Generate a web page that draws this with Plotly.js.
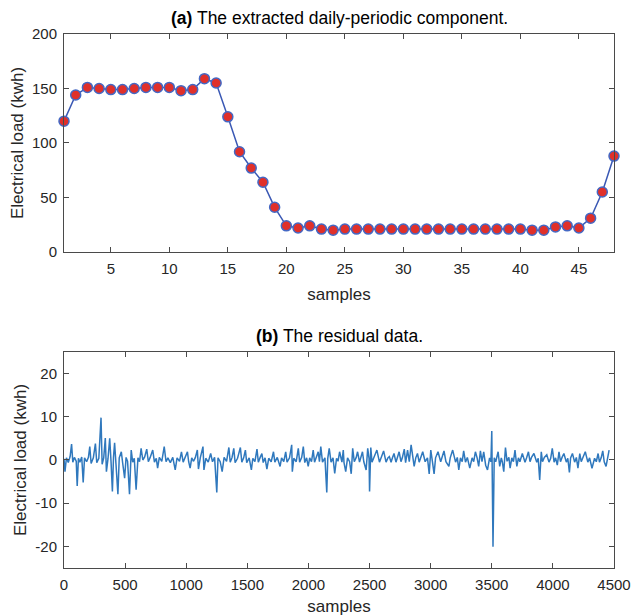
<!DOCTYPE html>
<html>
<head>
<meta charset="utf-8">
<script src="https://cdn.plot.ly/plotly-3.0.1.min.js"></script>
<style>html,body{margin:0;padding:0;background:#fff;}#chart{width:632px;height:616px;}</style>
</head>
<body>
<div id="chart"></div>
<script>
// (a) daily-periodic component
var periodSamples = [1,2,3,4,5,6,7,8,9,10,11,12,13,14,15,16,17,18,19,20,21,22,23,24,25,26,27,28,29,30,31,32,33,34,35,36,37,38,39,40,41,42,43,44,45,46,47,48];
var periodLoad = [120,144,151,150,149,149,150,151,151,151,148,149,159,155,124,92,77,64,41,24,22,24,21,20,21,21,21,21,21,21,21,21,21,21,21,21,21,21,21,21,20,20,23,24,22,31,55,88];

// (b) residual data
var residSamples = [0,8,20,35,50,62,72,85,100,108,118,130,145,157,168,185,200,211,222,240,257,268,285,303,312,325,338,347,360,374,385,396,405,414,425,441,452,469,480,496,508,520,536,550,562,575,590,605,618,631,645,660,677,690,705,726,740,755,766,780,800,820,835,850,870,890,910,925,945,961,975,990,1010,1020,1032,1045,1060,1075,1091,1100,1115,1137,1145,1160,1180,1200,1215,1232,1250,1260,1278,1294,1310,1330,1349,1360,1375,1389,1400,1420,1443,1455,1470,1484,1495,1515,1533,1545,1562,1579,1590,1605,1619,1630,1645,1660,1675,1695,1714,1725,1745,1768,1780,1798,1814,1825,1845,1863,1868,1880,1900,1917,1928,1945,1958,1970,1985,1998,2010,2025,2039,2050,2065,2080,2090,2101,2115,2135,2150,2158,2170,2185,2201,2215,2230,2242,2255,2274,2285,2291,2305,2320,2337,2350,2362,2375,2391,2402,2418,2432,2442,2453,2472,2485,2496,2500,2510,2520,2535,2560,2581,2595,2615,2635,2650,2662,2676,2688,2700,2716,2728,2742,2757,2768,2784,2795,2811,2825,2840,2865,2878,2892,2906,2918,2935,2955,2974,2988,3001,3015,3028,3040,3060,3082,3095,3109,3125,3149,3160,3180,3204,3218,3230,3244,3258,3270,3285,3300,3320,3339,3352,3366,3380,3393,3407,3420,3434,3450,3465,3482,3493,3494,3500,3510,3520,3532,3540,3552,3565,3578,3586,3598,3612,3625,3640,3650,3664,3677,3690,3705,3718,3730,3750,3772,3785,3800,3813,3825,3845,3868,3880,3892,3905,3915,3930,3950,3968,3982,3995,4010,4022,4036,4050,4062,4075,4090,4110,4122,4135,4145,4160,4178,4192,4205,4220,4232,4245,4265,4286,4300,4320,4341,4355,4370,4381,4395,4408,4420,4435,4447,4460];
var residValues = [0.3,-2.7,0.5,-0.6,0.8,3.7,-0.5,0.6,-0.3,-6.0,0.4,-0.5,0.7,-5.2,0.5,-0.4,0.6,3.1,-0.8,0.5,3.8,-0.6,0.4,9.8,-1.0,0.5,5.1,-2.7,0.3,5.0,-0.5,-7.3,0.6,4.0,-0.8,-7.9,0.5,1.9,-0.7,-4.2,0.6,-0.3,-7.9,2.3,-0.5,0.4,-6.9,0.5,-0.4,2.7,0.0,0.7,2.5,-0.4,0.6,2.3,-0.5,0.4,-1.9,0.6,-0.3,3.1,-0.4,0.5,-0.6,0.6,-2.3,0.5,-0.3,1.9,-0.5,0.6,1.9,-0.4,-1.9,0.5,-0.3,0.6,2.3,-2.1,0.5,3.1,-2.3,0.4,-0.5,1.5,-0.4,0.6,-7.5,0.5,-0.4,-2.7,0.6,-0.3,2.9,-0.5,0.6,2.7,-0.6,0.4,2.9,-0.5,0.5,2.3,-0.6,0.5,-2.3,0.4,-0.4,2.5,-0.5,0.6,1.5,-0.6,0.5,-2.1,0.4,-0.4,1.9,-0.5,0.6,-1.5,0.5,-0.4,1.9,-0.5,0.5,3.5,-2.7,0.4,-0.4,2.7,-0.5,0.6,3.1,-0.6,0.5,-1.5,0.5,-0.4,2.3,-0.5,0.6,1.9,-0.4,3.1,-0.5,0.5,-7.5,0.4,2.7,-0.5,0.5,-3.1,0.4,-0.3,1.9,-0.5,2.3,-0.6,-2.7,0.5,-0.4,-3.2,2.7,-0.4,0.6,1.9,-0.5,0.6,1.9,-0.4,-2.3,2.7,0.3,-7.3,2.9,-0.5,0.4,2.3,-0.5,0.6,2.1,-0.5,0.5,0.8,-0.5,0.6,1.5,-0.5,0.6,1.9,-0.4,0.5,2.5,-0.6,2.3,-0.4,3.5,-1.5,0.5,1.5,-0.5,0.6,1.9,-0.4,0.5,-3.2,2.3,-0.5,-3.2,0.5,1.9,-0.4,0.6,2.1,-0.4,-1.5,0.5,2.3,-0.5,0.6,-2.3,0.5,-0.4,2.1,-0.5,0.6,-1.9,0.5,-0.4,1.9,0.5,-1.5,2.1,-0.4,1.9,-1.2,-2.3,0.5,-0.4,0.4,6.7,-20.1,0.5,-0.4,0.6,1.9,-1.5,0.5,-0.4,-2.7,2.9,-0.3,0.6,-1.9,0.5,-0.4,2.3,-1.5,0.5,-0.4,1.5,-0.5,0.5,1.9,-0.4,0.6,1.5,-0.5,0.4,-4.6,1.9,-0.4,0.6,1.2,-0.5,0.4,2.7,-0.5,0.5,-1.2,1.9,-0.4,0.6,1.5,-0.5,0.4,-2.9,0.5,1.5,-0.5,0.6,-1.9,1.5,-0.4,0.5,1.9,-0.5,0.5,-1.9,0.4,-0.4,1.5,-0.5,0.5,2.1,-0.4,-1.5,0.5,2.3,-0.5,0.4];

var topXTicks = [5,10,15,20,25,30,35,40,45];
var topYTicks = [0,50,100,150,200];
var botXTicks = [0,500,1000,1500,2000,2500,3000,3500,4000,4500];
var botYTicks = [-20,-10,0,10,20];
var botYLabels = ['-20','-10','0','10','20'];

var axisCol = '#4a4a4a';
var textCol = '#262626';
var fontFam = 'Liberation Sans, Arial, Helvetica, sans-serif';

var traces = [
  {x: periodSamples, y: periodLoad, type: 'scatter', mode: 'lines+markers',
   xaxis: 'x', yaxis: 'y', cliponaxis: false,
   line: {color: '#3a58b4', width: 1.5},
   marker: {color: '#e0302a', size: 10, line: {color: '#4468c4', width: 1.5}}},
  {x: residSamples, y: residValues, type: 'scatter', mode: 'lines',
   xaxis: 'x2', yaxis: 'y2',
   line: {color: '#2f78bd', width: 1.5}}
];

function ax(extra) {
  var base = {showline: true, mirror: 'ticks', linecolor: axisCol, linewidth: 1,
    ticks: 'inside', ticklen: 5, tickcolor: axisCol, tickwidth: 1,
    showgrid: false, zeroline: false, automargin: false, ticklabelstandoff: 3,
    tickfont: {family: fontFam, size: 15, color: textCol}};
  for (var k in extra) base[k] = extra[k];
  return base;
}

var layout = {
  width: 632, height: 616,
  margin: {l: 64, r: 18, t: 34, b: 48},
  paper_bgcolor: '#ffffff', plot_bgcolor: '#ffffff',
  showlegend: false,
  font: {family: fontFam, color: textCol},
  xaxis: ax({domain: [0, 1], anchor: 'y', range: [1, 48], tickvals: topXTicks,
    title: {text: 'samples', font: {family: fontFam, size: 17, color: textCol}, standoff: 12}}),
  yaxis: ax({domain: [0.5918, 1], anchor: 'x', range: [0, 200], tickvals: topYTicks,
    title: {text: 'Electrical load (kwh)', font: {family: fontFam, size: 17, color: textCol}, standoff: 4}}),
  xaxis2: ax({domain: [0, 1], anchor: 'y2', range: [0, 4500], tickvals: botXTicks,
    title: {text: 'samples', font: {family: fontFam, size: 17, color: textCol}, standoff: 12}}),
  yaxis2: ax({domain: [0, 0.4045], anchor: 'x2', range: [-25, 25], tickvals: botYTicks, ticktext: botYLabels,
    title: {text: 'Electrical load (kwh)', font: {family: fontFam, size: 17, color: textCol}, standoff: 4}}),
  annotations: [
    {text: '<b>(a)</b> The extracted daily-periodic component.', xref: 'paper', yref: 'paper',
     x: 0.5, y: 1, yshift: 4, xanchor: 'center', yanchor: 'bottom', showarrow: false,
     font: {family: fontFam, size: 17.5, color: '#000'}},
    {text: '<b>(b)</b> The residual data.', xref: 'paper', yref: 'paper',
     x: 0.5, y: 0.4045, yshift: 4, xanchor: 'center', yanchor: 'bottom', showarrow: false,
     font: {family: fontFam, size: 17.5, color: '#000'}}
  ]
};

Plotly.newPlot('chart', traces, layout, {displayModeBar: false, staticPlot: true});
</script>
</body>
</html>
